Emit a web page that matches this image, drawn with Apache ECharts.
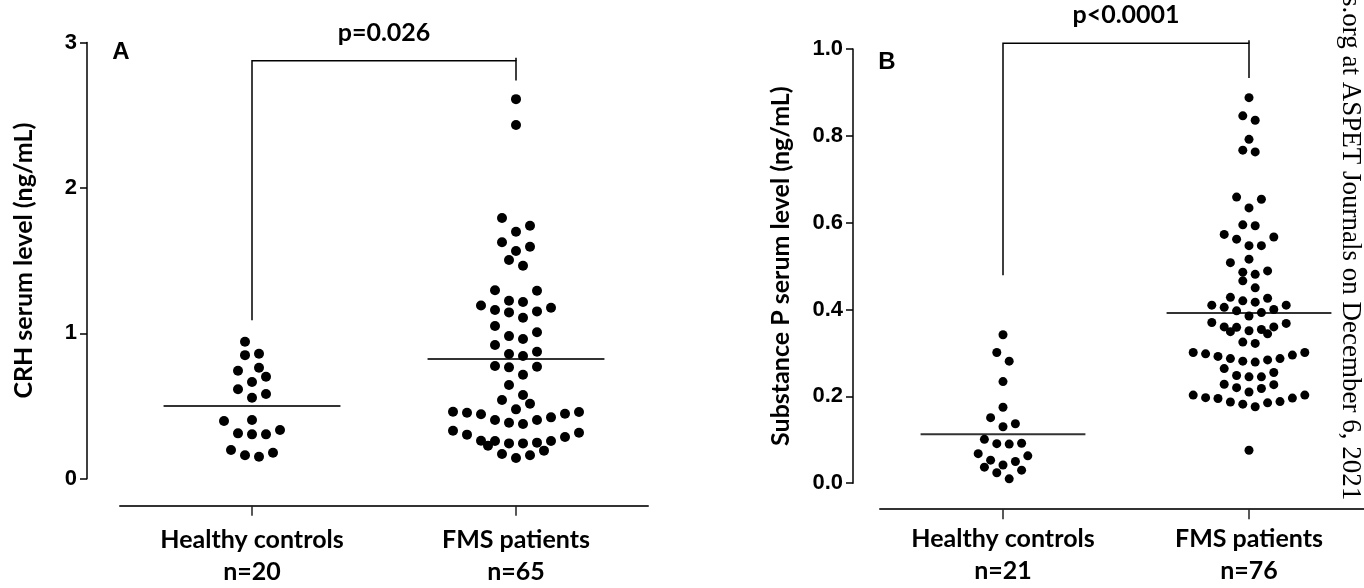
<!DOCTYPE html>
<html><head><meta charset="utf-8">
<script src="https://cdn.jsdelivr.net/npm/echarts@6/dist/echarts.min.js"></script>
<style>html,body{margin:0;padding:0;background:#fff}#c{width:1364px;height:588px}</style>
</head><body><div id="c"></div>
<script>
// ---------- data ----------
const categories = ['Healthy controls', 'FMS patients'];
const countsA = ['n=20', 'n=65'];
const countsB = ['n=21', 'n=76'];
const yTitleA = 'CRH serum level (ng/mL)';
const yTitleB = 'Substance P serum level (ng/mL)';

const crhControls = [0.151, 0.161, 0.179, 0.197, 0.305, 0.305, 0.312, 0.335, 0.397, 0.404,
  0.557, 0.583, 0.615, 0.665, 0.701, 0.743, 0.763, 0.85, 0.86, 0.942];
const crhFMS = [2.611, 2.433, 1.793, 1.740, 1.699, 1.626, 1.596, 1.566, 1.504, 1.465,
  1.296, 1.293, 1.224, 1.215, 1.192, 1.176, 1.160, 1.151, 1.144, 1.107, 1.050, 1.007,
  0.981, 0.961, 0.920, 0.873, 0.858, 0.844, 0.775, 0.770, 0.766, 0.715, 0.644, 0.576,
  0.541, 0.516, 0.477, 0.461, 0.459, 0.454, 0.447, 0.443, 0.422, 0.404, 0.404, 0.385, 0.376,
  0.330, 0.316, 0.303, 0.287, 0.261, 0.259, 0.259, 0.248, 0.243, 0.243,
  0.227, 0.193, 0.170, 0.161, 0.142];
const spControls = [0.342, 0.301, 0.281, 0.234, 0.175, 0.137, 0.151, 0.130, 0.092, 0.090, 0.091,
  0.101, 0.063, 0.050, 0.042, 0.053, 0.068, 0.030, 0.024, 0.037, 0.010];
const spFMS = [0.888, 0.846, 0.836, 0.792, 0.767, 0.763, 0.659, 0.654, 0.634, 0.595, 0.593,
  0.573, 0.567, 0.562, 0.547, 0.547, 0.516, 0.508, 0.489, 0.486, 0.481, 0.466, 0.450,
  0.428, 0.426, 0.420, 0.417, 0.410, 0.410, 0.405, 0.400, 0.397, 0.393, 0.385,
  0.370, 0.368, 0.360, 0.360, 0.359, 0.354, 0.351, 0.349, 0.344, 0.325, 0.322,
  0.301, 0.301, 0.298, 0.295, 0.292, 0.287, 0.287, 0.284, 0.281, 0.279,
  0.264, 0.255, 0.248, 0.245, 0.245, 0.228, 0.227, 0.220, 0.218, 0.210,
  0.203, 0.203, 0.197, 0.196, 0.195, 0.188, 0.187, 0.185, 0.182, 0.176, 0.076];
const crhMeans = [0.50, 0.823];
const spMeans = [0.113, 0.392];
// bracket: [left leg bottom, top, right leg bottom]
const bracketA = [1.09, 2.875, 2.74];
const bracketB = [0.479, 1.013, 0.933];
const pTextA = 'p=0.026';
const pTextB = 'p<0.0001';
const sideNote = 's.org at ASPET Journals on December 6, 2021';

// ---------- styling ----------
const CAL = 'Lato';
const ARIAL = 'Liberation Sans';

function swarmSeries(gi, cat, values, dot, spacing) {
  let cache = null;
  return {
    type: 'custom', xAxisIndex: gi, yAxisIndex: gi, z: 3, silent: true,
    data: values.map(v => [cat, v]),
    renderItem: function (params, api) {
      const key = api.coord([cat, 0]).join(',') + '|' + api.coord([cat, 1]).join(',');
      if (!cache || cache.key !== key) {
        const pts = values.map((v, i) => ({ i: i, v: v, y: api.coord([cat, v])[1] }));
        const sorted = pts.slice().sort((a, b) => a.v - b.v);
        const off = new Array(values.length).fill(0);
        let k = 0;
        while (k < sorted.length) {
          const start = sorted[k].y;
          let j = k;
          while (j < sorted.length && start - sorted[j].y < spacing) j++;
          const n = j - k;
          const slots = [];
          for (let s = 0; s < n; s++) slots.push((s - (n - 1) / 2) * spacing);
          slots.sort((a, b) => (Math.abs(a) - Math.abs(b)) || (b - a));
          for (let m = 0; m < n; m++) off[sorted[k + m].i] = slots[m];
          k = j;
        }
        cache = { key: key, off: off };
      }
      const p = api.coord([api.value(0), api.value(1)]);
      return { type: 'circle', shape: { cx: p[0] + cache.off[params.dataIndex], cy: p[1], r: dot / 2 },
        style: { fill: '#000' } };
    }
  };
}

function meanSeries(gi, means) {
  return {
    type: 'custom', xAxisIndex: gi, yAxisIndex: gi, z: 2, silent: true,
    data: means.map((m, i) => [i, m]),
    renderItem: function (params, api) {
      const p = api.coord([api.value(0), api.value(1)]);
      const hw = api.size([1, 0])[0] * 0.335;
      return { type: 'line', shape: { x1: p[0] - hw, y1: p[1], x2: p[0] + hw, y2: p[1] },
        style: { stroke: '#333', lineWidth: 2 } };
    }
  };
}

// category tick marks under the offset x axis line
function xTickSeries(gi, axisOffset) {
  return {
    type: 'custom', xAxisIndex: gi, yAxisIndex: gi, z: 2, silent: true, clip: false,
    data: categories.map((c, i) => [i, 0]),
    renderItem: function (params, api) {
      const p = api.coord([api.value(0), 0]);
      const y0 = p[1] + axisOffset;
      return { type: 'line', shape: { x1: p[0], y1: y0, x2: p[0], y2: y0 + 10 },
        style: { stroke: '#222', lineWidth: 1.5 } };
    }
  };
}

function bracketSeries(gi, br, text) {
  return {
    type: 'custom', xAxisIndex: gi, yAxisIndex: gi, z: 2, silent: true, clip: false,
    data: [[0, br[1]]],
    renderItem: function (params, api) {
      const l = api.coord([0, br[0]]), tl = api.coord([0, br[1]]);
      const tr = api.coord([1, br[1]]), r = api.coord([1, br[2]]);
      return { type: 'group', children: [
        { type: 'polyline', shape: { points: [l, tl, tr, r] },
          style: { stroke: '#000', lineWidth: 1.5, fill: 'none' } },
        { type: 'line', shape: { x1: tr[0], y1: tr[1] - 3, x2: tr[0], y2: tr[1] },
          style: { stroke: '#000', lineWidth: 1.5 } },
        { type: 'text', style: { text: text, x: (tl[0] + tr[0]) / 2, y: tl[1] - 28,
          align: 'center', verticalAlign: 'middle', fontFamily: CAL, fontWeight: 'bold',
          fontSize: 25, fill: '#000' } }
      ] };
    }
  };
}

function yAxis(gi, max, interval, offset, name, nameGap, fmt) {
  return {
    gridIndex: gi, type: 'value', min: 0, max: max, interval: interval, offset: offset,
    axisLine: { show: true, onZero: false, lineStyle: { color: '#000', width: 1.5 } },
    axisTick: { show: true, length: 7, lineStyle: { color: '#000', width: 1.5 } },
    splitLine: { show: false },
    axisLabel: { show: true, color: '#000', fontFamily: ARIAL, fontWeight: 'bold', fontSize: 22, margin: 10,
      formatter: fmt },
    name: name, nameLocation: 'middle', nameRotate: 90, nameGap: nameGap,
    nameTextStyle: { color: '#000', fontFamily: CAL, fontWeight: 'bold', fontSize: 25 }
  };
}

function xAxis(gi, offset, counts, margin) {
  return {
    gridIndex: gi, type: 'category', data: categories, offset: offset,
    axisLine: { show: true, onZero: false, lineStyle: { color: '#333', width: 2 } },
    axisTick: { show: false },
    splitLine: { show: false },
    axisLabel: { color: '#000', fontFamily: CAL, fontWeight: 'bold', fontSize: 25, lineHeight: 32,
      margin: margin, interval: 0,
      formatter: (v, i) => v + '\n' + counts[i] }
  };
}

const chart = echarts.init(document.getElementById('c'), null, { renderer: 'canvas' });
chart.setOption({
  backgroundColor: '#fff',
  animation: false,
  grid: [
    { left: 120, top: 42.6, width: 528, height: 436.1, containLabel: false, outerBoundsMode: 'none' },
    { left: 880, top: 49, width: 492, height: 434.2, containLabel: false, outerBoundsMode: 'none' }
  ],
  xAxis: [xAxis(0, 27, countsA, 18), xAxis(1, 26, countsB, 14)],
  yAxis: [
    yAxis(0, 3, 1, 33, yTitleA, 51, v => String(v)),
    yAxis(1, 1, 0.2, 27, yTitleB, 60, v => v.toFixed(1))
  ],
  series: [
    meanSeries(0, crhMeans),
    meanSeries(1, spMeans),
    xTickSeries(0, 27),
    xTickSeries(1, 26),
    swarmSeries(0, 0, crhControls, 10, 14),
    swarmSeries(0, 1, crhFMS, 10, 14),
    swarmSeries(1, 0, spControls, 9, 12.4),
    swarmSeries(1, 1, spFMS, 9, 12.4),
    bracketSeries(0, bracketA, pTextA),
    bracketSeries(1, bracketB, pTextB)
  ],
  graphic: [
    { type: 'text', x: 121, y: 52, style: { text: 'A', align: 'center', verticalAlign: 'middle',
      fontFamily: ARIAL, fontWeight: 'bold', fontSize: 24, fill: '#000' } },
    { type: 'text', x: 887, y: 62, style: { text: 'B', align: 'center', verticalAlign: 'middle',
      fontFamily: ARIAL, fontWeight: 'bold', fontSize: 24, fill: '#000' } },
    { type: 'text', x: 1350, y: -4, rotation: -Math.PI / 2,
      style: { text: sideNote, align: 'left', verticalAlign: 'middle',
        fontFamily: 'Liberation Serif', fontSize: 27, fill: '#000' } }
  ]
});
</script>
</body></html>
